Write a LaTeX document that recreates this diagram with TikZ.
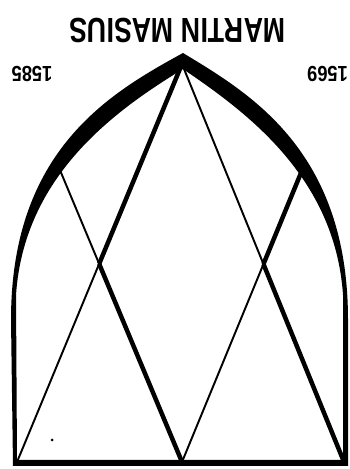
\documentclass[tikz,border=0pt]{standalone}
\usepackage{fontspec}
\setmainfont{Liberation Sans}

\begin{document}
\begin{tikzpicture}[x=0.02cm,y=0.02cm,
    heavy/.style={line width=2.55pt},
    light/.style={line width=1.1pt},
    lettering/.style={rotate=180, inner sep=0pt}]
  \useasboundingbox (0,0) rectangle (350,469);
  % the sheet is printed upside down
  \coordinate (apex) at (182,405);
  \coordinate (bl) at (17,7);
  \coordinate (bm) at (182,7);
  \coordinate (br) at (344,7);
  \coordinate (lp) at (57,306);
  \coordinate (rp) at (303,301);
  \coordinate (lx) at (intersection of apex--bl and lp--bm);
  \coordinate (rx) at (intersection of apex--br and rp--bm);
  % frame: pointed arch, sides and foot
  \fill[even odd rule]
    (13,3) -- (11,149) .. controls (11,319) and (110,376) .. (183,416)
    .. controls (249,376) and (348,319) .. (348,149) -- (348,3) -- cycle
    (17,9) -- (16,174) .. controls (24,294) and (116,359) .. (183,400)
    .. controls (243,359) and (335,294) .. (343,174) -- (343,9) -- cycle;
  % crossing bars
  \draw[heavy] (apex) -- (lx);
  \draw[light] (lx) -- (bl);
  \draw[light] (lp) -- (lx);
  \draw[heavy] (lx) -- (bm);
  \draw[light] (apex) -- (rx);
  \draw[heavy] (rx) -- (br);
  \draw[heavy] (rp) -- (rx);
  \draw[light] (rx) -- (bm);
  \fill (52,29) circle (1.5);
  % lettering
  \node[lettering, font=\bfseries\fontsize{19.8}{20}\selectfont, xscale=0.77] (name) at (177.5,438.5) {MARTIN MASIUS};
  \node[lettering, font=\bfseries\fontsize{12.4}{13}\selectfont, xscale=0.84] (leftyear) at (32,394.5) {1585};
  \node[lettering, font=\bfseries\fontsize{12.4}{13}\selectfont, xscale=0.84] (rightyear) at (327.5,394.5) {1569};
\end{tikzpicture}
\end{document}
